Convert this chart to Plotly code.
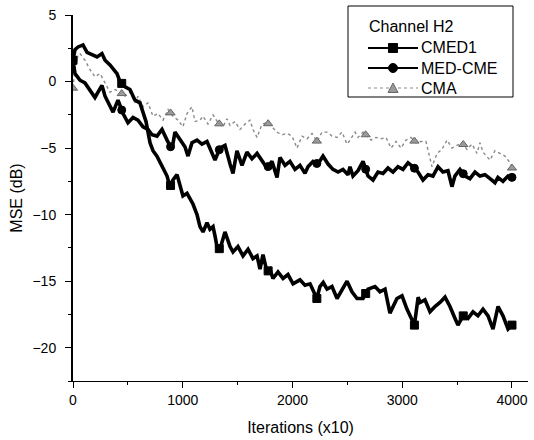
import numpy as np
import plotly.graph_objects as go

# ---------------- data ----------------
ITER_CMED1 = [0, 18, 46, 91, 128, 173, 219, 264, 292, 337, 401, 428, 474, 519, 565, 610, 638, 665, 702, 729,
              765, 793, 820, 857, 884, 911, 948, 975, 1002, 1039, 1066, 1093, 1130, 1157, 1185, 1221, 1248, 1276, 1294, 1312,
              1339, 1385, 1431, 1458, 1503, 1549, 1595, 1640, 1677, 1704, 1731, 1768, 1795, 1822, 1868, 1914, 1959, 2005, 2068, 2114,
              2160, 2222, 2250, 2280, 2315, 2360, 2406, 2451, 2497, 2542, 2588, 2643, 2688, 2752, 2797, 2843, 2888, 2952, 2998, 3043,
              3111, 3145, 3162, 3207, 3253, 3298, 3344, 3390, 3435, 3481, 3508, 3554, 3599, 3645, 3690, 3736, 3782, 3827, 3873, 3918,
              3964, 4000]
MSE_CMED1 = [1.6, 2.4, 2.6, 2.75, 2.2, 2.0, 1.85, 2.1, 1.6, 1.25, 0.6, 0.0, -0.4, -0.6, -1.4, -1.6, -2.4, -3.0, -4.6, -5.2,
             -5.6, -6.1, -6.6, -7.1, -7.9, -7.4, -7.0, -7.8, -8.6, -8.4, -8.8, -9.2, -10.0, -10.9, -11.3, -10.6, -11.1, -10.9, -11.6, -12.4,
             -12.6, -11.3, -12.4, -12.8, -12.4, -13.1, -12.6, -13.3, -13.1, -14.1, -13.0, -14.3, -14.1, -14.8, -14.3, -14.8, -14.5, -15.2, -14.9, -15.3,
             -15.2, -16.3, -15.4, -15.1, -15.6, -15.4, -16.3, -15.6, -15.0, -15.8, -16.3, -16.3, -15.6, -15.4, -15.8, -15.6, -17.4, -16.3, -16.1, -17.1,
             -18.3, -16.2, -16.6, -16.4, -17.3, -16.9, -16.6, -16.2, -16.9, -17.8, -18.3, -17.6, -17.8, -17.3, -17.6, -17.1, -17.6, -18.6, -16.9, -17.6,
             -18.6, -18.3]

ITER_MEDCME = [0, 18, 46, 64, 109, 155, 200, 228, 264, 292, 337, 365, 410, 456, 501, 547, 592, 638, 683, 720,
               765, 811, 857, 902, 929, 975, 1020, 1048, 1084, 1130, 1175, 1221, 1267, 1294, 1339, 1385, 1431, 1458, 1494, 1540,
               1585, 1631, 1677, 1722, 1768, 1813, 1859, 1886, 1932, 1977, 2023, 2068, 2114, 2141, 2187, 2232, 2278, 2324, 2369, 2415,
               2460, 2506, 2524, 2551, 2597, 2643, 2688, 2734, 2779, 2825, 2870, 2916, 2961, 3007, 3053, 3098, 3144, 3189, 3235, 3280,
               3326, 3371, 3417, 3453, 3480, 3526, 3572, 3617, 3663, 3708, 3754, 3800, 3845, 3872, 3918, 3964, 4000]
MSE_MEDCME = [1.6, 0.6, 0.3, 0.1, -0.1, -0.6, -1.2, -0.8, -0.3, -1.1, -1.9, -2.3, -1.4, -2.4, -3.1, -2.7, -2.9, -3.4, -3.6, -4.0,
              -4.1, -3.6, -4.4, -5.1, -3.8, -4.4, -4.9, -5.6, -4.6, -4.4, -4.7, -4.5, -5.3, -5.9, -5.0, -4.8, -6.2, -6.9, -5.2, -6.3,
              -5.3, -5.8, -5.4, -5.9, -6.5, -6.0, -7.2, -5.7, -6.3, -6.0, -6.6, -6.3, -6.9, -6.4, -6.0, -6.2, -5.6, -6.2, -6.6, -6.8,
              -6.6, -7.0, -6.4, -7.1, -6.7, -6.0, -7.1, -7.4, -6.8, -6.9, -6.5, -6.8, -6.4, -6.6, -6.1, -6.4, -6.8, -7.4, -7.0, -7.1,
              -6.4, -6.8, -6.7, -7.9, -7.1, -6.6, -7.1, -7.3, -6.8, -7.1, -7.0, -7.3, -7.6, -7.2, -7.5, -7.1, -7.2]

ITER_CMA = [0, 18, 46, 64, 109, 155, 200, 246, 292, 337, 383, 428, 474, 519, 565, 592, 638, 683, 729, 775,
            820, 866, 911, 957, 1002, 1039, 1084, 1112, 1157, 1185, 1230, 1276, 1321, 1367, 1403, 1431, 1476, 1522, 1567, 1613,
            1640, 1677, 1722, 1768, 1813, 1859, 1905, 1950, 1996, 2041, 2087, 2132, 2178, 2224, 2269, 2315, 2360, 2406, 2451, 2497,
            2524, 2570, 2597, 2643, 2679, 2716, 2761, 2807, 2852, 2898, 2943, 2989, 3034, 3080, 3125, 3171, 3216, 3244, 3271, 3317,
            3362, 3408, 3453, 3499, 3544, 3590, 3636, 3681, 3708, 3736, 3772, 3800, 3845, 3891, 3936, 3982, 4000]
MSE_CMA = [-0.5, 1.0, 2.0, 2.1, 1.6, 0.9, 0.35, 0.6, -0.1, -0.8, -0.6, -0.8, -1.1, -0.8, -1.6, -1.1, -1.9, -1.6, -2.6, -2.4,
           -2.9, -2.1, -2.6, -2.9, -3.4, -2.4, -1.9, -3.0, -2.9, -2.6, -3.2, -2.5, -3.1, -3.4, -2.8, -3.3, -3.0, -3.6, -3.2, -2.9,
           -3.6, -4.2, -3.2, -3.1, -3.4, -3.8, -4.0, -3.9, -4.1, -5.0, -4.1, -4.3, -3.9, -4.5, -3.8, -3.8, -4.1, -4.2, -3.8, -4.7,
           -4.4, -3.8, -4.2, -3.8, -4.1, -4.4, -4.2, -4.3, -4.2, -5.0, -4.5, -5.0, -4.4, -4.2, -4.6, -4.5, -4.5, -5.6, -6.4, -5.4,
           -5.1, -4.4, -5.0, -4.8, -4.6, -5.1, -4.7, -5.4, -4.6, -5.3, -5.6, -5.9, -5.2, -5.4, -5.6, -6.1, -6.5]

MARKER_ITERS = [0, 444, 889, 1333, 1778, 2222, 2667, 3111, 3556, 4000]

X_TICKS = [0, 1000, 2000, 3000, 4000]
Y_TICKS = [-20, -15, -10, -5, 0, 5]

LEGEND_TITLE = "Channel H2"
LEGEND_NAMES = ["CMED1", "MED-CME", "CMA"]
FONT = "Liberation Sans, Arial, sans-serif"

# ---------------- layout geometry (pixels) ----------------
W, H = 534, 440
ML, MR, MT, MB = 73, 6, 15, 59
PW, PH = W - ML - MR, H - MT - MB


def px(xp):
    return (xp - ML) / PW


def py(yp):
    return (H - MB - yp) / PH


fig = go.Figure()

styles = {
    "CMED1": dict(lc="#000000", lw=3.6, dash="solid", sym="square", mc="#000000", mlc="#000000"),
    "MED-CME": dict(lc="#000000", lw=3.6, dash="solid", sym="circle", mc="#000000", mlc="#000000"),
    "CMA": dict(lc="#8a8a8a", lw=1.4, dash="dot", sym="triangle-up", mc="#9a9a9a", mlc="#666666"),
}
data = {
    "CMED1": (ITER_CMED1, MSE_CMED1),
    "MED-CME": (ITER_MEDCME, MSE_MEDCME),
    "CMA": (ITER_CMA, MSE_CMA),
}

for name in ["CMA", "MED-CME", "CMED1"]:
    xs, ys = data[name]
    s = styles[name]
    fig.add_trace(go.Scatter(x=xs, y=ys, mode="lines", name=name,
                             line=dict(color=s["lc"], width=s["lw"], dash=s["dash"]),
                             showlegend=False, hoverinfo="skip"))
    my = np.interp(MARKER_ITERS, xs, ys)
    fig.add_trace(go.Scatter(x=MARKER_ITERS, y=my, mode="markers",
                             marker=dict(symbol=s["sym"], size=8, color=s["mc"], line=dict(color=s["mlc"], width=1)),
                             showlegend=False, hoverinfo="skip"))

# ---------------- hand-drawn legend box (as in the reference) ----------------
shapes = []
annotations = []
shapes.append(dict(type="rect", xref="paper", yref="paper", x0=px(348), x1=px(513), y0=py(97), y1=py(6),
                   line=dict(color="black", width=1), fillcolor="white", layer="above"))
annotations.append(dict(xref="paper", yref="paper", x=px(367), y=py(26), text=LEGEND_TITLE, showarrow=False,
                        xanchor="left", yanchor="middle", font=dict(family=FONT, size=16, color="black")))
row_y = [48, 68, 88]
for name, yy in zip(LEGEND_NAMES, row_y):
    s = styles[name]
    shapes.append(dict(type="line", xref="paper", yref="paper", x0=px(368), x1=px(418), y0=py(yy), y1=py(yy),
                       line=dict(color=s["lc"], width=2 if s["dash"] == "solid" else 1.2, dash=s["dash"]),
                       layer="above"))
    cx, r = 393, 4.5
    if s["sym"] == "square":
        shapes.append(dict(type="rect", xref="paper", yref="paper", x0=px(cx - r), x1=px(cx + r),
                           y0=py(yy + r), y1=py(yy - r), fillcolor=s["mc"], line=dict(color=s["mlc"], width=1),
                           layer="above"))
    elif s["sym"] == "circle":
        shapes.append(dict(type="circle", xref="paper", yref="paper", x0=px(cx - r), x1=px(cx + r),
                           y0=py(yy + r), y1=py(yy - r), fillcolor=s["mc"], line=dict(color=s["mlc"], width=1),
                           layer="above"))
    else:
        path = "M {} {} L {} {} L {} {} Z".format(px(cx - r - 0.5), py(yy + r), px(cx + r + 0.5), py(yy + r),
                                                  px(cx), py(yy - r - 0.5))
        shapes.append(dict(type="path", xref="paper", yref="paper", path=path, fillcolor=s["mc"],
                           line=dict(color=s["mlc"], width=1), layer="above"))
    annotations.append(dict(xref="paper", yref="paper", x=px(419), y=py(yy), text=name, showarrow=False,
                            xanchor="left", yanchor="middle", font=dict(family=FONT, size=16, color="black")))

axis_common = dict(showgrid=False, zeroline=False, showline=True, linecolor="black", automargin=False,
                   ticks="outside", tickcolor="black", ticklen=6, tickwidth=1,
                   tickfont=dict(family=FONT, size=14, color="black"))

fig.update_xaxes(range=[0, 4146], tickvals=X_TICKS, linewidth=1,
                 minor=dict(ticks="outside", ticklen=3, tickcolor="black", dtick=500, tick0=0),
                 title=dict(text="Iterations (x10)", font=dict(family=FONT, size=16, color="black"), standoff=15),
                 **axis_common)
fig.update_yaxes(range=[-22.5, 5], tickvals=Y_TICKS, linewidth=2, ticklabelstandoff=6,
                 minor=dict(ticks="outside", ticklen=3, tickcolor="black", dtick=2.5, tick0=0),
                 title=dict(text="MSE (dB)", font=dict(family=FONT, size=16, color="black"), standoff=6),
                 **axis_common)

fig.update_layout(
    width=W, height=H,
    margin=dict(l=ML, r=MR, t=MT, b=MB),
    paper_bgcolor="white", plot_bgcolor="white",
    font=dict(family=FONT, color="black"),
    showlegend=False,
    shapes=shapes,
    annotations=annotations,
)

fig.write_html("out.html", config={"displayModeBar": False},
               post_script="document.body.style.margin='0px';document.body.style.overflow='hidden';")
